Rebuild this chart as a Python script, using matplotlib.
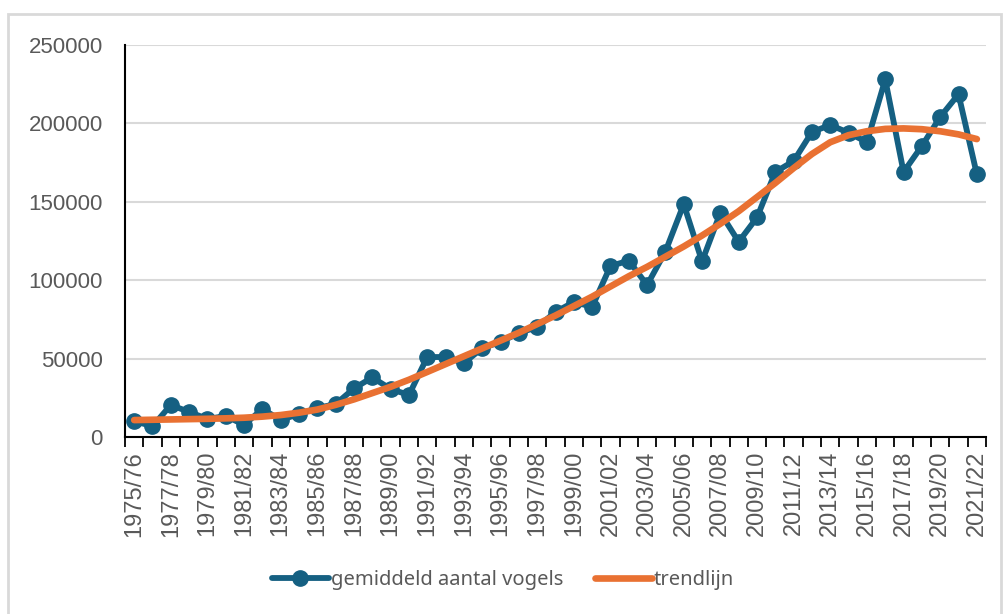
import numpy as np
import matplotlib.pyplot as plt
from matplotlib.patches import Rectangle
from matplotlib.lines import Line2D

# seasons 1975/76 .. 2021/22
seasons = ["%d/%02d" % (y, (y + 1) % 100) for y in range(1975, 2022)]

# gemiddeld aantal vogels
birds = [10200, 6800, 20400, 16000, 11500, 13400, 7700, 17900, 10800, 14700,
         18500, 21000, 31000, 38000, 30600, 26800, 51000, 51000, 47200, 56700,
         60600, 66300, 70100, 79700, 86100, 83000, 109000, 112500, 96900, 118300,
         148500, 112000, 143000, 124500, 140000, 169000, 176000, 194500, 199000, 194000,
         188000, 228000, 169000, 185600, 204100, 218600, 167500]

# trendlijn
trend = [10800, 11000, 11200, 11400, 11600, 11900, 12300, 13000, 14000, 15500,
         17500, 20500, 24000, 28000, 32000, 36500, 41500, 46500, 51500, 56500,
         61500, 66500, 72000, 77500, 83500, 89500, 96000, 102500, 108500, 115000,
         121500, 128500, 136000, 144000, 153000, 162000, 171500, 180500, 188000, 192500,
         195000, 196500, 196800, 196300, 195000, 193000, 190000]

yticks = [0, 50000, 100000, 150000, 200000, 250000]

blue = "#156082"
orange = "#E97132"
grey_txt = "#595959"

fig = plt.figure(figsize=(10.06, 6.14), dpi=100)
fig.patches.append(Rectangle((8 / 1006, -0.01), 993 / 1006, 1 - 14 / 614 + 0.01,
                             transform=fig.transFigure, fill=False,
                             edgecolor="#d9d9d9", linewidth=2))

ax = fig.add_axes([125 / 1006, 1 - 437 / 614, (986 - 125) / 1006, (437 - 45) / 614])
x = np.arange(len(seasons))

ax.plot(x, birds, color=blue, linewidth=4.2, marker="o", markersize=11,
        solid_capstyle="round", zorder=3)
ax.plot(x, trend, color=orange, linewidth=4.8, solid_capstyle="round", zorder=4)

ax.set_xlim(-0.5, len(seasons) - 0.5)
ax.set_ylim(0, 250000)
ax.set_yticks(yticks)
ax.set_yticklabels([str(v) for v in yticks], fontsize=16, color=grey_txt,
                   family="Liberation Sans")
ax.tick_params(axis="y", length=0, pad=16)
ax.grid(axis="y", color="#d9d9d9", linewidth=1.5)
ax.set_axisbelow(True)

# category boundaries as tick marks, labels on every other category
ax.set_xticks(np.arange(-0.5, len(seasons), 1.0))
ax.set_xticklabels([])
ax.tick_params(axis="x", which="major", length=7, width=1.3, color="black")
ax.set_xticks(x[::2], minor=True)
ax.set_xticklabels(seasons[::2], minor=True, rotation=90, fontsize=17,
                   color=grey_txt, family="Liberation Sans")
ax.tick_params(axis="x", which="minor", length=0, pad=10)

for s in ["top", "right"]:
    ax.spines[s].set_visible(False)
ax.spines["left"].set_color("black")
ax.spines["left"].set_linewidth(1.5)
ax.spines["bottom"].set_color("black")
ax.spines["bottom"].set_linewidth(1.5)

handles = [Line2D([], [], color=blue, linewidth=4.2, marker="o", markersize=11,
                  solid_capstyle="round"),
           Line2D([], [], color=orange, linewidth=4.8, solid_capstyle="round")]
leg = fig.legend(handles, ["gemiddeld aantal vogels", "trendlijn"],
                 loc="center", bbox_to_anchor=(503 / 1006, 1 - 580 / 614),
                 ncol=2, frameon=False, handlelength=2.8, columnspacing=1.6,
                 handletextpad=0.1, prop={"family": "Noto Sans", "size": 14.5})
for t in leg.get_texts():
    t.set_color(grey_txt)

fig.savefig("out.png", dpi=100)
